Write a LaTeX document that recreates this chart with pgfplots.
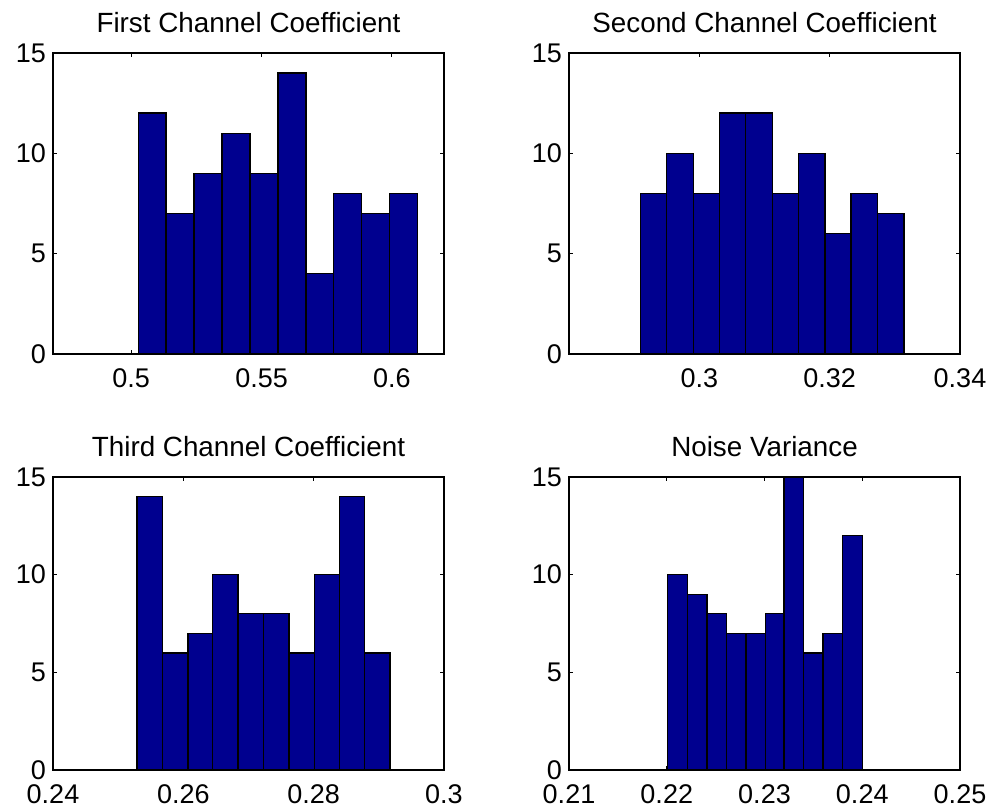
\documentclass[border=0pt]{standalone}
\usepackage{fontspec}
\setmainfont{Liberation Sans}
\usepackage{pgfplots}
\pgfplotsset{compat=1.18}

\definecolor{barblue}{RGB}{0,0,143}

\pgfplotsset{
  histo/.style={
    scale only axis,
    anchor=south west,
    ymin=0, ymax=15,
    ytick={0,5,10,15},
    tick align=inside,
    major tick length=2pt,
    axis line style={line width=0.6pt},
    tick style={black, line width=0.5pt},
    every tick label/.append style={font=\fontsize{13.5}{16}\selectfont},
    xticklabel style={yshift=-4pt},
    title style={font=\fontsize{13.9}{16}\selectfont, yshift=0.5pt},
    /pgf/number format/assume math mode=true,
  },
  bars/.style={ybar interval, fill=barblue, draw=black, line width=0.7pt},
}

\begin{document}
\begin{tikzpicture}
\path (0,0) rectangle (497pt,404.5pt);

% first channel coefficient
\begin{axis}[histo, at={(26.5pt,227.5pt)}, width=195.5pt, height=150.5pt,
  xmin=0.47, xmax=0.62, xtick={0.5,0.55,0.6}, xticklabels={0.5,0.55,0.6},
  title={First Channel Coefficient}]
\addplot[bars] coordinates {
 (0.5027,12) (0.5134,7) (0.5241,9) (0.5348,11) (0.5455,9)
 (0.5563,14) (0.5670,4) (0.5777,8) (0.5884,7) (0.5991,8) (0.6098,8)};
\end{axis}

% second channel coefficient
\begin{axis}[histo, at={(284.5pt,227.5pt)}, width=195.5pt, height=150.5pt,
  xmin=0.28, xmax=0.34, xtick={0.30,0.32,0.34}, xticklabels={0.3,0.32,0.34},
  title={Second Channel Coefficient}]
\addplot[bars] coordinates {
 (0.2910,8) (0.2950,10) (0.2991,8) (0.3031,12) (0.3071,12)
 (0.3112,8) (0.3152,10) (0.3193,6) (0.3233,8) (0.3273,7) (0.3314,7)};
\end{axis}

% third channel coefficient
\begin{axis}[histo, at={(26.5pt,19.5pt)}, width=195.5pt, height=146.5pt,
  xmin=0.24, xmax=0.30, xtick={0.24,0.26,0.28,0.30}, xticklabels={0.24,0.26,0.28,0.3},
  title={Third Channel Coefficient}]
\addplot[bars] coordinates {
 (0.2529,14) (0.2568,6) (0.2607,7) (0.2645,10) (0.2684,8)
 (0.2723,8) (0.2762,6) (0.2801,10) (0.2840,14) (0.2878,6) (0.2917,6)};
\end{axis}

% noise variance
\begin{axis}[histo, at={(284.5pt,19.5pt)}, width=195.5pt, height=146.5pt,
  xmin=0.21, xmax=0.25, xtick={0.21,0.22,0.23,0.24,0.25}, xticklabels={0.21,0.22,0.23,0.24,0.25},
  title={Noise Variance}]
\addplot[bars] coordinates {
 (0.2201,10) (0.2221,9) (0.2241,8) (0.2261,7) (0.2281,7)
 (0.2301,8) (0.2320,15) (0.2340,6) (0.2360,7) (0.2380,12) (0.2400,12)};
\end{axis}
\end{tikzpicture}
\end{document}
